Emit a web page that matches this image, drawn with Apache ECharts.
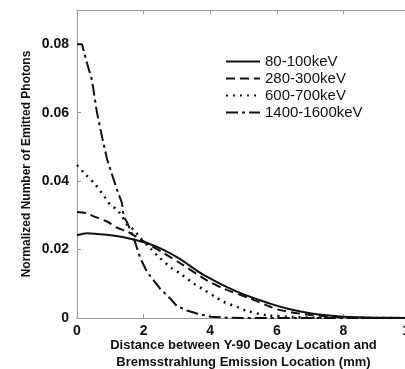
<!DOCTYPE html>
<html>
<head>
<meta charset="utf-8">
<script src="https://cdn.jsdelivr.net/npm/echarts@6/dist/echarts.min.js"></script>
<style>
  html, body { margin: 0; padding: 0; background: #fff; }
  #myChart { width: 405px; height: 369px; }
</style>
</head>
<body>
<div id="myChart"></div>
<script>
// 数据
var names = ['80-100keV', '280-300keV', '600-700keV', '1400-1600keV'];

var x80 = [0, 0.3, 0.9, 1.5, 2.1, 2.6, 3.1, 3.8, 4.8, 5.8, 6.3, 7, 7.5, 8, 9, 10];
var y80 = [0.0242, 0.0248, 0.0243, 0.0234, 0.0219, 0.0199, 0.0172, 0.0126, 0.0077, 0.0042, 0.0028, 0.0014, 0.0008, 0.0004, 0.0001, 0];

var x280 = [0, 0.3, 0.5, 0.9, 1.2, 1.5, 1.8, 2.2, 2.6, 3.1, 3.9, 4.4, 5.2, 5.7, 6.1, 7, 8, 9, 10];
var y280 = [0.031, 0.0306, 0.0297, 0.0282, 0.0264, 0.0253, 0.0236, 0.0212, 0.019, 0.016, 0.011, 0.0086, 0.0057, 0.0037, 0.0023, 0.0009, 0.0002, 0, 0];

var x600 = [0, 0.2, 0.55, 0.85, 1.0, 1.2, 1.35, 1.5, 1.7, 1.9, 2.25, 2.45, 2.85, 3.1, 3.5, 3.75, 4.15, 4.4, 4.85, 5.1, 5.7, 6.5, 7.5, 10];
var y600 = [0.0447, 0.0425, 0.039, 0.0351, 0.0331, 0.0317, 0.0297, 0.0273, 0.0258, 0.0234, 0.0199, 0.0179, 0.0145, 0.013, 0.0101, 0.0086, 0.0062, 0.0047, 0.0031, 0.0021, 0.0008, 0.0003, 0, 0];

var x1400 = [0, 0.15, 0.3, 0.45, 0.6, 0.75, 0.9, 1.05, 1.2, 1.35, 1.4, 1.5, 1.7, 1.9, 2.1, 2.3, 2.5, 2.8, 3.0, 3.3, 3.6, 4.0, 4.5, 5, 10];
var y1400 = [0.080, 0.080, 0.0745, 0.0695, 0.060, 0.053, 0.0465, 0.042, 0.0375, 0.0336, 0.0297, 0.028, 0.0235, 0.0175, 0.0135, 0.011, 0.0085, 0.0057, 0.0035, 0.0022, 0.0013, 0.0004, 0.0001, 0, 0];

var xTicks = [0, 2, 4, 6, 8, 10];
var yTicks = [0, 0.02, 0.04, 0.06, 0.08];

function zip(xs, ys) {
  return xs.map(function (x, i) { return [x, ys[i]]; });
}

var myChart = echarts.init(document.getElementById('myChart'));

var axisLineStyle = { color: '#999', width: 1 };
var tickStyle = { show: true, inside: true, length: 4, lineStyle: { color: '#999' } };

myChart.setOption({
  animation: false,
  backgroundColor: '#fff',
  grid: {
    left: 77,
    top: 10,
    right: -5,
    bottom: 51,
    outerBoundsMode: 'none'
  },
  legend: {
    left: 220,
    top: 49,
    orient: 'vertical',
    itemWidth: 34,
    itemHeight: 12,
    itemGap: 2,
    data: names,
    itemStyle: { opacity: 0 },
    textStyle: {
      fontFamily: 'Liberation Sans, Arial',
      fontSize: 15,
      color: '#111'
    }
  },
  xAxis: [{
    type: 'value',
    min: xTicks[0],
    max: xTicks[xTicks.length - 1],
    interval: 2,
    name: 'Distance between Y-90 Decay Location and\nBremsstrahlung Emission Location (mm)',
    nameLocation: 'middle',
    nameGap: 19,
    nameMoveOverlap: false,
    nameTextStyle: {
      fontFamily: 'Liberation Sans, Arial',
      fontWeight: 'bold',
      fontSize: 13,
      lineHeight: 17,
      color: '#111'
    },
    axisLine: { show: true, onZero: false, lineStyle: axisLineStyle },
    axisTick: tickStyle,
    splitLine: { show: false },
    axisLabel: {
      margin: 6,
      fontFamily: 'Liberation Sans, Arial',
      fontWeight: 'bold',
      fontSize: 14,
      color: '#111'
    }
  }, {
    type: 'value',
    position: 'top',
    min: xTicks[0],
    max: xTicks[xTicks.length - 1],
    interval: 2,
    axisLine: { show: true, onZero: false, lineStyle: axisLineStyle },
    axisTick: tickStyle,
    axisLabel: { show: false },
    splitLine: { show: false }
  }],
  yAxis: [{
    type: 'value',
    min: yTicks[0],
    max: 0.09,
    interval: 0.02,
    name: 'Normalized Number of Emitted Photons',
    nameLocation: 'middle',
    nameGap: 44,
    nameMoveOverlap: false,
    nameTextStyle: {
      fontFamily: 'Liberation Sans, Arial',
      fontWeight: 'bold',
      fontSize: 12,
      color: '#111'
    },
    axisLine: { show: true, onZero: false, lineStyle: axisLineStyle },
    axisTick: tickStyle,
    splitLine: { show: false },
    axisLabel: {
      margin: 8,
      showMaxLabel: false,
      fontFamily: 'Liberation Sans, Arial',
      fontWeight: 'bold',
      fontSize: 14,
      color: '#111',
      formatter: function (v) { return v === 0 ? '0' : v.toFixed(2); }
    }
  }, {
    type: 'value',
    position: 'right',
    min: yTicks[0],
    max: 0.09,
    interval: 0.02,
    axisLine: { show: true, onZero: false, lineStyle: axisLineStyle },
    axisTick: tickStyle,
    axisLabel: { show: false },
    splitLine: { show: false }
  }],
  series: [{
    name: names[0],
    type: 'line',
    symbol: 'none',
    smooth: 0.3,
    data: zip(x80, y80),
    lineStyle: { color: '#111', width: 2, type: 'solid' },
    itemStyle: { color: '#111' }
  }, {
    name: names[1],
    type: 'line',
    symbol: 'none',
    smooth: 0.3,
    data: zip(x280, y280),
    lineStyle: { color: '#111', width: 2, type: [9, 5] },
    itemStyle: { color: '#111' }
  }, {
    name: names[2],
    type: 'line',
    symbol: 'none',
    smooth: 0.3,
    data: zip(x600, y600),
    lineStyle: { color: '#111', width: 2.5, type: [2, 5] },
    itemStyle: { color: '#111' }
  }, {
    name: names[3],
    type: 'line',
    symbol: 'none',
    data: zip(x1400, y1400),
    lineStyle: { color: '#111', width: 2, type: [12, 4, 3, 4] },
    itemStyle: { color: '#111' }
  }]
});
</script>
</body>
</html>
